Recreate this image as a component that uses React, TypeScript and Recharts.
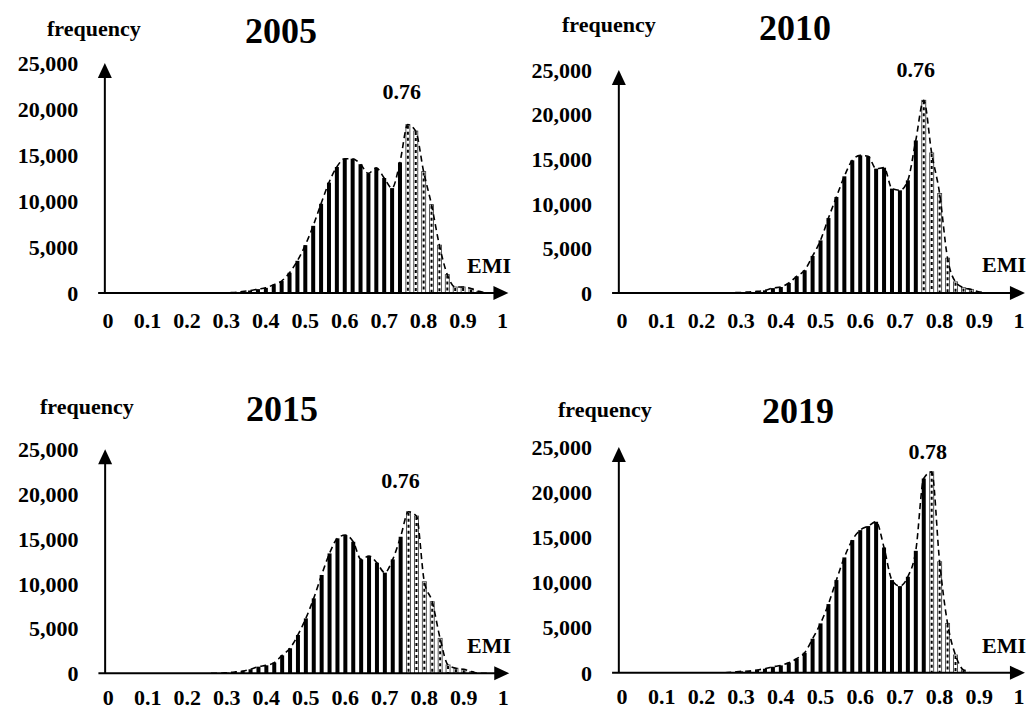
// Histogramas EMI (2005, 2010, 2015, 2019): barras de frecuencia + envolvente punteada.
import { Bar, ComposedChart, Line, ReferenceDot, ReferenceLine, XAxis, YAxis } from 'recharts';

const emiBins = [
  0.26, 0.28, 0.3, 0.32, 0.34, 0.36, 0.38, 0.4, 0.42, 0.44, 0.46, 0.48,
  0.5, 0.52, 0.54, 0.56, 0.58, 0.6, 0.62, 0.64, 0.66, 0.68, 0.7, 0.72,
  0.74, 0.76, 0.78, 0.8, 0.82, 0.84, 0.86, 0.88, 0.9, 0.92, 0.94, 0.96,
];

const freq2005 = [
  0, 0, 30, 60, 150, 270, 420, 560, 900, 1300, 2200, 3500,
  5200, 7300, 9700, 12000, 13700, 14600, 14600, 14000, 13000, 13600, 12500, 11400,
  14200, 18300, 17600, 13200, 9600, 5200, 2000, 650, 650, 500, 180, 0,
];
const freq2010 = [
  0, 30, 60, 120, 180, 300, 550, 670, 1120, 1870, 2540, 4150,
  5900, 8400, 10760, 13080, 14870, 15430, 15320, 13940, 14050, 11700, 11510, 12630,
  17100, 21600, 15700, 11150, 3900, 1250, 600, 400, 120, 0, 0, 0,
];
const freq2015 = [
  0, 0, 70, 150, 260, 450, 740, 890, 1190, 2000, 2790, 4280,
  6130, 8360, 10970, 13380, 15060, 15430, 14680, 12710, 13090, 12340, 11230, 12710,
  15240, 18030, 17550, 10220, 7990, 3900, 930, 560, 450, 190, 0, 0,
];
const freq2019 = [
  0, 70, 150, 180, 300, 440, 660, 810, 1110, 1550, 2210, 3760,
  5460, 7600, 10260, 12770, 14690, 15790, 16240, 16720, 13870, 10260, 9590, 10630,
  13500, 21510, 22250, 12290, 5460, 1960, 300, 0, 0, 0, 0, 0,
];

const years = ['2005', '2010', '2015', '2019'];
const series = [freq2005, freq2010, freq2015, freq2019];
const peakBins = [0.76, 0.76, 0.76, 0.78];
const peakLabels = ['0.76', '0.76', '0.76', '0.78'];

const xTicks = [0, 0.1, 0.2, 0.3, 0.4, 0.5, 0.6, 0.7, 0.8, 0.9, 1];
const xTickLabels = ['0', '0.1', '0.2', '0.3', '0.4', '0.5', '0.6', '0.7', '0.8', '0.9', '1'];
const yTicks = [0, 5000, 10000, 15000, 20000, 25000];

const X_MIN = -0.025;
const X_MAX = 1.015;
const Y_AXIS_AT = -0.008;
const serif = "'Times New Roman', 'Liberation Serif', serif";
const tickStyle = { fill: '#000', fontSize: 22, fontWeight: 700, fontFamily: serif };

// geometría de cada panel en coordenadas de página
const frames = [
  { left: 0, top: 0, w: 514, h: 340, x0: 108, x1: 502.5, yZero: 293, yMax: 63, labDx: -6, labOff: 26, tm: 19,
    title: [281, 43], freq: [47, 36], emi: [467, 273] },
  { left: 514, top: 0, w: 515, h: 340, x0: 622, x1: 1019, yZero: 293, yMax: 70, labDx: -8, labOff: 23, tm: 19,
    title: [795, 40], freq: [562, 32], emi: [982, 272] },
  { left: 0, top: 380, w: 514, h: 331, x0: 108.3, x1: 503.3, yZero: 673.3, yMax: 449.3, labDx: -8, labOff: 23.5, tm: 16,
    title: [282, 421], freq: [40, 414], emi: [467, 653] },
  { left: 514, top: 380, w: 515, h: 331, x0: 622, x1: 1019, yZero: 672.7, yMax: 447, labDx: -4, labOff: 13, tm: 16,
    title: [798, 423], freq: [558, 417], emi: [982, 653] },
];

function ArrowLine(p: any) {
  const { x1, y1, x2, y2 } = p;
  const dx = x2 - x1;
  const dy = y2 - y1;
  const len = Math.hypot(dx, dy) || 1;
  const ux = dx / len;
  const uy = dy / len;
  const head = 15;
  const half = 7;
  const bx = x2 - ux * head;
  const by = y2 - uy * head;
  return (
    <g>
      <line x1={x1} y1={y1} x2={bx + ux * 2} y2={by + uy * 2} stroke="#000" strokeWidth={2} />
      <polygon points={`${x2},${y2} ${bx - uy * half},${by + ux * half} ${bx + uy * half},${by - ux * half}`} fill="#000" />
    </g>
  );
}

function HistBar(p: any) {
  const { x, y, width, height, hatch } = p;
  if (!height || height <= 0) return null;
  if (!hatch) return <rect x={x} y={y} width={width} height={height} fill="#000" />;
  const cx = x + width / 2;
  return (
    <g>
      <rect x={x} y={y} width={width} height={height} fill="#fff" stroke="#444" strokeWidth={0.9} />
      <line x1={cx} y1={y + 1} x2={cx} y2={y + height} stroke="#000" strokeWidth={2} strokeDasharray="3 3" />
    </g>
  );
}

function Panel({ i }: { i: number }) {
  const f = frames[i];
  const k = f.x1 - f.x0;
  const xa = f.x0 + k * X_MIN;
  const xb = f.x0 + k * X_MAX;
  const rows = emiBins.map((emi, j) => ({ emi, v: series[i][j] }));
  const hatchFrom = peakBins[i] - 1e-6;
  const peakVal = series[i][emiBins.indexOf(peakBins[i])];
  return (
    <div style={{ position: 'absolute', left: f.left, top: f.top, width: f.w, height: f.h }}>
      <ComposedChart
        width={f.w}
        height={f.h}
        data={rows}
        margin={{ top: f.yMax - f.top, right: f.left + f.w - xb, left: 0, bottom: 0 }}
      >
        <XAxis
          type="number"
          dataKey="emi"
          domain={[X_MIN, X_MAX]}
          allowDataOverflow
          ticks={xTicks}
          interval={0}
          tickFormatter={(v: number) => xTickLabels[xTicks.indexOf(v)] ?? String(v)}
          axisLine={false}
          tickLine={false}
          tickSize={0}
          tickMargin={f.tm}
          height={f.top + f.h - f.yZero}
          tick={tickStyle}
        />
        <YAxis
          type="number"
          domain={[0, 25000]}
          allowDataOverflow
          ticks={yTicks}
          interval={0}
          tickFormatter={(v: number) => v.toLocaleString('en-US')}
          axisLine={false}
          tickLine={false}
          tickSize={0}
          tickMargin={20}
          width={xa - f.left}
          tick={tickStyle}
        />
        <Bar
          dataKey="v"
          barSize={4}
          isAnimationActive={false}
          shape={(p: any) => <HistBar {...p} hatch={p.payload.emi >= hatchFrom} />}
        />
        <Line
          type="monotone"
          dataKey="v"
          stroke="#000"
          strokeWidth={1.6}
          strokeDasharray="6 4"
          dot={false}
          activeDot={false}
          isAnimationActive={false}
        />
        <ReferenceLine
          segment={[{ x: X_MIN, y: 0 }, { x: X_MAX, y: 0 }]}
          ifOverflow="visible"
          shape={ArrowLine}
        />
        <ReferenceLine
          segment={[{ x: Y_AXIS_AT, y: 0 }, { x: Y_AXIS_AT, y: 25000 }]}
          ifOverflow="visible"
          shape={ArrowLine}
        />
        <ReferenceDot
          x={peakBins[i]}
          y={peakVal}
          r={0}
          ifOverflow="visible"
          shape={(p: any) => (
            <text x={p.cx + f.labDx} y={p.cy - f.labOff} textAnchor="middle" {...tickStyle}>
              {peakLabels[i]}
            </text>
          )}
        />
      </ComposedChart>
    </div>
  );
}

export default function App() {
  return (
    <div style={{ position: 'absolute', left: 0, top: 0, width: 1029, height: 711, background: '#fff', overflow: 'hidden' }}>
      {frames.map((_, i) => (
        <Panel key={i} i={i} />
      ))}
      <svg width={1029} height={711} style={{ position: 'absolute', left: 0, top: 0, pointerEvents: 'none' }}>
        {frames.map((f, i) => (
          <g key={i} fontFamily={serif} fontWeight={700} fill="#000">
            <text x={f.title[0]} y={f.title[1]} textAnchor="middle" fontSize={36}>{years[i]}</text>
            <text x={f.freq[0]} y={f.freq[1]} fontSize={22}>frequency</text>
            <text x={f.emi[0]} y={f.emi[1]} fontSize={22}>EMI</text>
          </g>
        ))}
      </svg>
    </div>
  );
}
